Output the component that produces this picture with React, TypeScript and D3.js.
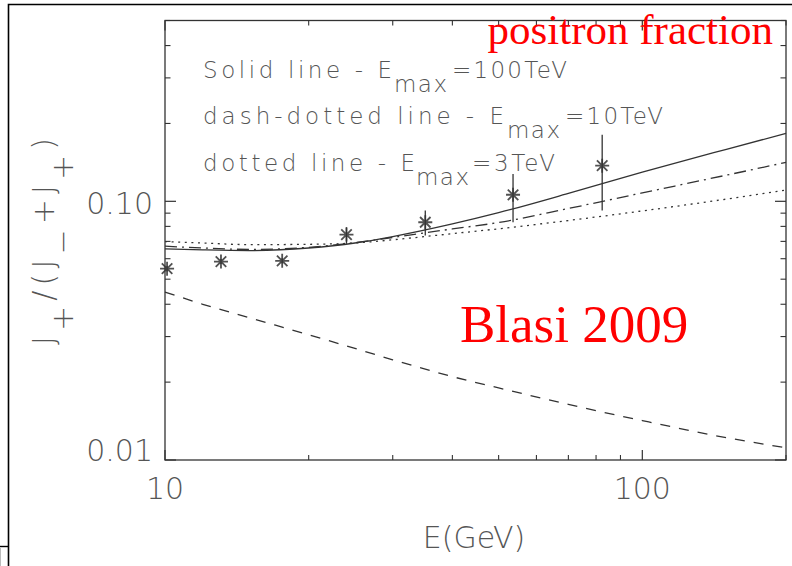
import React from "react";
import * as d3 from "d3";

// Model curves: positron fraction vs energy for different maximum energies
const E_GRID = [10, 12, 15, 20, 25, 30, 40, 50, 70, 100, 150, 200];
const SOLID_100TEV = [0.0655, 0.0649, 0.0645, 0.066, 0.069, 0.0731, 0.0818, 0.0904, 0.1073, 0.1297, 0.1589, 0.183];
const DASHDOT_10TEV = [0.0671, 0.066, 0.0652, 0.0664, 0.0692, 0.0725, 0.0782, 0.0828, 0.0938, 0.1078, 0.1262, 0.1414];
const DOTTED_3TEV = [0.0699, 0.069, 0.068, 0.0682, 0.069, 0.071, 0.075, 0.0783, 0.0843, 0.0918, 0.102, 0.1106];
const DASHED_SECONDARY = [0.0446, 0.04, 0.0355, 0.0305, 0.027, 0.0244, 0.021, 0.019, 0.0164, 0.0142, 0.0122, 0.01115];

// Measured points with error bars
const DATA_E = [10.1, 13.1, 17.6, 24.0, 35.1, 53.6, 82.4];
const DATA_FRAC = [0.0549, 0.0585, 0.0589, 0.0744, 0.083, 0.106, 0.1373];
const DATA_HI = [0.0562, 0.0598, 0.0602, 0.0794, 0.0921, 0.1275, 0.1809];
const DATA_LO = [0.0536, 0.0572, 0.0576, 0.0685, 0.0737, 0.083, 0.0921];

// Axes
const X_DOMAIN = [10, 200];
const Y_DOMAIN = [0.01, 0.5];
const X_MAJOR = [10, 100];
const X_MINOR = [20, 30, 40, 50, 60, 70, 80, 90, 200];
const X_LABELS = ["10", "100"];
const Y_MAJOR = [0.01, 0.1];
const Y_MINOR = [0.02, 0.03, 0.04, 0.05, 0.06, 0.07, 0.08, 0.09, 0.2, 0.3, 0.4, 0.5];
const Y_LABELS = ["0.01", "0.10"];

const LEGEND = [
  { label: "Solid line - E", value: "=100TeV" },
  { label: "dash-dotted line - E", value: "=10TeV" },
  { label: "dotted line - E", value: "=3TeV" },
];

const W = 792;
const H = 566;
const M = { left: 165, right: 786, top: 20.5, bottom: 460 };

const INK = "#333";
const TEXT = "#555";
const FONT = "'DejaVu Sans', sans-serif";

export default function App() {
  const x = d3.scaleLog().domain(X_DOMAIN).range([M.left, M.right]);
  const y = d3.scaleLog().domain(Y_DOMAIN).range([M.bottom, M.top]);

  const line = d3
    .line<[number, number]>()
    .x((d) => x(d[0]))
    .y((d) => y(d[1]))
    .curve(d3.curveMonotoneX);

  const curve = (vals: number[]) => line(E_GRID.map((e, i) => [e, vals[i]] as [number, number])) || "";

  const star = (cx: number, cy: number, r: number) => {
    const a = r * 0.75;
    return `M${cx},${cy - r}L${cx},${cy + r}M${cx - r},${cy}L${cx + r},${cy}M${cx - a},${cy - a}L${cx + a},${cy + a}M${cx - a},${cy + a}L${cx + a},${cy - a}`;
  };

  const legendRows = [
    { base: 78, mainLen: 189, subX: 394, valX: 452, valLen: 115 },
    { base: 124, mainLen: 301, subX: 507, valX: 565, valLen: 98 },
    { base: 171, mainLen: 212, subX: 416, valX: 472, valLen: 83 },
  ];

  return (
    <svg
      width={W}
      height={H}
      viewBox={`0 0 ${W} ${H}`}
      style={{ position: "absolute", left: 0, top: 0, background: "#fff" }}
    >
      <rect x={0} y={0} width={W} height={H} fill="#fff" />

      {/* outer frame */}
      <path d={`M8.5,${H}L8.5,4.5L${W},4.5`} fill="none" stroke="#000" strokeWidth={1.6} />
      <path d={`M0,546.5L8.5,546.5`} fill="none" stroke="#000" strokeWidth={1.4} />
      <path d={`M0.5,548L0.5,${H}`} fill="none" stroke="#bbb" strokeWidth={1} />

      {/* plot box */}
      <rect
        x={M.left}
        y={M.top}
        width={M.right - M.left}
        height={M.bottom - M.top}
        fill="none"
        stroke={INK}
        strokeWidth={1.3}
      />

      {/* x ticks, bottom and top */}
      {X_MAJOR.map((t) => (
        <g key={`xM${t}`} stroke={INK} strokeWidth={1.2}>
          <line x1={x(t)} x2={x(t)} y1={M.bottom} y2={M.bottom - 10} />
          <line x1={x(t)} x2={x(t)} y1={M.top} y2={M.top + 10} />
        </g>
      ))}
      {X_MINOR.map((t) => (
        <g key={`xm${t}`} stroke={INK} strokeWidth={1.1}>
          <line x1={x(t)} x2={x(t)} y1={M.bottom} y2={M.bottom - 5} />
          <line x1={x(t)} x2={x(t)} y1={M.top} y2={M.top + 5} />
        </g>
      ))}

      {/* y ticks, left and right */}
      {Y_MAJOR.map((t) => (
        <g key={`yM${t}`} stroke={INK} strokeWidth={1.2}>
          <line x1={M.left} x2={M.left + 11} y1={y(t)} y2={y(t)} />
          <line x1={M.right} x2={M.right - 11} y1={y(t)} y2={y(t)} />
        </g>
      ))}
      {Y_MINOR.map((t) => (
        <g key={`ym${t}`} stroke={INK} strokeWidth={1.1}>
          <line x1={M.left} x2={M.left + 5.5} y1={y(t)} y2={y(t)} />
          <line x1={M.right} x2={M.right - 5.5} y1={y(t)} y2={y(t)} />
        </g>
      ))}

      {/* tick labels */}
      {X_MAJOR.map((t, i) => (
        <text
          key={`xl${t}`}
          x={x(t)}
          y={M.bottom + 39}
          textAnchor="middle"
          fontFamily={FONT}
          fontWeight={200}
          fontSize={30}
          fill={TEXT}
        >
          {X_LABELS[i]}
        </text>
      ))}
      {Y_MAJOR.map((t, i) => (
        <text
          key={`yl${t}`}
          x={M.left - 12}
          y={Math.min(y(t) + 13, M.bottom + 1)}
          textAnchor="end"
          fontFamily={FONT}
          fontWeight={200}
          fontSize={30}
          fill={TEXT}
        >
          {Y_LABELS[i]}
        </text>
      ))}

      {/* axis titles */}
      <text
        x={474}
        y={548}
        textAnchor="middle"
        fontFamily={FONT}
        fontWeight={200}
        fontSize={30}
        fill={TEXT}
      >
        E(GeV)
      </text>
      <text
        transform="translate(54,241.5) rotate(-90)"
        textAnchor="middle"
        fontFamily={FONT}
        fontWeight={200}
        fontSize={30}
        fill={TEXT}
        textLength={207}
        lengthAdjust="spacing"
      >
        <tspan>J</tspan>
        <tspan dy={18.5}>+</tspan>
        <tspan dy={-18.5}>/(J</tspan>
        <tspan dy={18.5}>−</tspan>
        <tspan dy={-18.5}>+J</tspan>
        <tspan dy={18.5}>+</tspan>
        <tspan dy={-18.5}>)</tspan>
      </text>

      {/* legend text */}
      {LEGEND.map((row, i) => {
        const r = legendRows[i];
        return (
          <g key={row.label} fontFamily={FONT} fontWeight={200} fontSize={23} fill={TEXT}>
            <text x={203} y={r.base} textLength={r.mainLen} lengthAdjust="spacing">
              {row.label}
            </text>
            <text x={r.subX} y={r.base + 14} textLength={53} lengthAdjust="spacing">
              max
            </text>
            <text x={r.valX} y={r.base} textLength={r.valLen} lengthAdjust="spacing">
              {row.value}
            </text>
          </g>
        );
      })}

      {/* model curves */}
      <g fill="none" stroke={INK} strokeWidth={1.3}>
        <path d={curve(SOLID_100TEV)} />
        <path d={curve(DASHDOT_10TEV)} strokeDasharray="12,5,2,5" />
        <path d={curve(DOTTED_3TEV)} strokeDasharray="2,4.6" />
        <path d={curve(DASHED_SECONDARY)} strokeDasharray="10,9" />
      </g>

      {/* data points */}
      <g fill="none" stroke={INK}>
        {DATA_E.map((e, i) => (
          <g key={`p${i}`}>
            <line x1={x(e)} x2={x(e)} y1={y(DATA_HI[i])} y2={y(DATA_LO[i])} strokeWidth={1.3} />
            <path d={star(x(e), y(DATA_FRAC[i]), 7)} strokeWidth={1.8} strokeOpacity={0.85} />
          </g>
        ))}
      </g>

      {/* annotations */}
      <text
        x={773}
        y={44}
        textAnchor="end"
        fontFamily="'Liberation Serif', 'Times New Roman', serif"
        fontSize={43}
        fill="#f00"
      >
        positron fraction
      </text>
      <text
        x={460}
        y={342}
        fontFamily="'Liberation Serif', 'Times New Roman', serif"
        fontSize={53}
        fill="#f00"
      >
        Blasi 2009
      </text>
    </svg>
  );
}
